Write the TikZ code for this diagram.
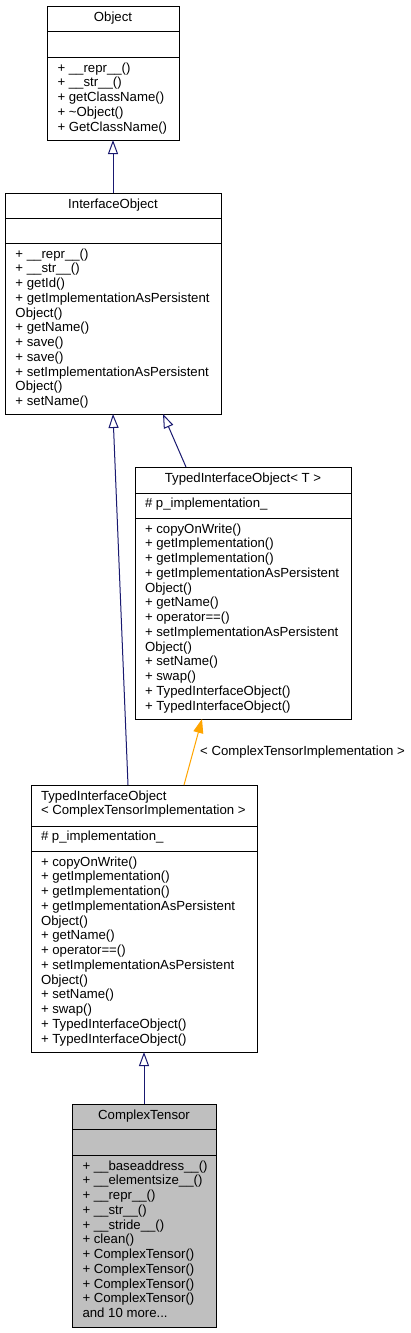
\documentclass[tikz,border=0pt]{standalone}
\usepackage{fontspec}
\setmainfont{Liberation Sans}
\usetikzlibrary{arrows.meta,calc}
\definecolor{navy}{HTML}{191970}
\definecolor{inhorange}{HTML}{FFA500}
\definecolor{ctgray}{HTML}{BFBFBF}
\newcommand\dfont{\fontsize{13.2}{14.75}\selectfont}
\begin{document}
\begin{tikzpicture}[x=1pt,y=-1pt,
  classbox/.style={draw=black, line width=1pt, inner sep=0pt, outer sep=0pt, anchor=north west, rectangle},
  txt/.style={font=\dfont, inner sep=0pt, outer sep=0pt, anchor=north west, align=left},
  ttl/.style={font=\dfont, inner sep=0pt, outer sep=0pt, anchor=north},
  divider/.style={draw=black, line width=1pt},
  inh/.style={draw=navy, line width=1pt, -{Triangle[open, length=14pt, width=10pt]}},
  tmpl/.style={draw=inhorange, line width=1pt, -{Triangle[length=14pt, width=10pt, fill=inhorange]}}]
\useasboundingbox[fill=white] (0,0) rectangle (411,1333);

% Object
\node[classbox, minimum width=132pt, minimum height=134pt] (obj) at (47,6) {};
\draw[divider] ($(obj.north west)+(0,25)$) -- ($(obj.north east)+(0,25)$);
\draw[divider] ($(obj.north west)+(0,51)$) -- ($(obj.north east)+(0,51)$);
\node[ttl] (objn) at ($(obj.north)+(0,4.7)$) {\strut Object};
\node[txt] (objm) at ($(obj.north west)+(10.5,55.7)$) {\strut + \_\_repr\_\_()\\+ \_\_str\_\_()\\+ getClassName()\\+ \textasciitilde Object()\\+ GetClassName()};

% InterfaceObject
\node[classbox, minimum width=216pt, minimum height=221pt] (io) at (5,193) {};
\draw[divider] ($(io.north west)+(0,25)$) -- ($(io.north east)+(0,25)$);
\draw[divider] ($(io.north west)+(0,50)$) -- ($(io.north east)+(0,50)$);
\node[ttl] (ion) at ($(io.north)+(0,4.7)$) {\strut InterfaceObject};
\node[txt] (iom) at ($(io.north west)+(10.5,54.7)$) {\strut + \_\_repr\_\_()\\+ \_\_str\_\_()\\+ getId()\\+ getImplementationAsPersistent\\Object()\\+ getName()\\+ save()\\+ save()\\+ setImplementationAsPersistent\\Object()\\+ setName()};

% TypedInterfaceObject< T >
\node[classbox, minimum width=216pt, minimum height=252pt] (tiot) at (135,467) {};
\draw[divider] ($(tiot.north west)+(0,26)$) -- ($(tiot.north east)+(0,26)$);
\draw[divider] ($(tiot.north west)+(0,51)$) -- ($(tiot.north east)+(0,51)$);
\node[ttl] (tiotn) at ($(tiot.north)+(0,4.7)$) {\strut TypedInterfaceObject< T >};
\node[txt] (tiota) at ($(tiot.north west)+(10,29.7)$) {\strut \# p\_implementation\_};
\node[txt] (tiotm) at ($(tiot.north west)+(10,55.7)$) {\strut + copyOnWrite()\\+ getImplementation()\\+ getImplementation()\\+ getImplementationAsPersistent\\Object()\\+ getName()\\+ operator==()\\+ setImplementationAsPersistent\\Object()\\+ setName()\\+ swap()\\+ TypedInterfaceObject()\\+ TypedInterfaceObject()};

% TypedInterfaceObject< ComplexTensorImplementation >
\node[classbox, minimum width=226pt, minimum height=267pt] (tioc) at (31,785) {};
\draw[divider] ($(tioc.north west)+(0,41)$) -- ($(tioc.north east)+(0,41)$);
\draw[divider] ($(tioc.north west)+(0,66)$) -- ($(tioc.north east)+(0,66)$);
\node[txt] (tiocn) at ($(tioc.north west)+(10,4.7)$) {\strut TypedInterfaceObject\\< ComplexTensorImplementation >};
\node[txt] (tioca) at ($(tioc.north west)+(10,44.7)$) {\strut \# p\_implementation\_};
\node[txt] (tiocm) at ($(tioc.north west)+(10,70.7)$) {\strut + copyOnWrite()\\+ getImplementation()\\+ getImplementation()\\+ getImplementationAsPersistent\\Object()\\+ getName()\\+ operator==()\\+ setImplementationAsPersistent\\Object()\\+ setName()\\+ swap()\\+ TypedInterfaceObject()\\+ TypedInterfaceObject()};

% ComplexTensor
\node[classbox, fill=ctgray, minimum width=144pt, minimum height=223pt] (ct) at (72,1104) {};
\draw[divider] ($(ct.north west)+(0,25)$) -- ($(ct.north east)+(0,25)$);
\draw[divider] ($(ct.north west)+(0,51)$) -- ($(ct.north east)+(0,51)$);
\node[ttl] (ctn) at ($(ct.north)+(0,4.7)$) {\strut ComplexTensor};
\node[txt] (ctm) at ($(ct.north west)+(10.5,55.7)$) {\strut + \_\_baseaddress\_\_()\\+ \_\_elementsize\_\_()\\+ \_\_repr\_\_()\\+ \_\_str\_\_()\\+ \_\_stride\_\_()\\+ clean()\\+ ComplexTensor()\\+ ComplexTensor()\\+ ComplexTensor()\\+ ComplexTensor()\\and 10 more...};

% connectors
\draw[inh] (io.north) -- (obj.south);
\draw[inh] ($(tioc.north west)+(97,0)$) -- (io.south);
\draw[inh] ($(tiot.north west)+(51,0)$) -- ($(io.south west)+(158,0)$);
\draw[tmpl] ($(tioc.north west)+(153,0)$) -- ($(tiot.south west)+(67,0)$);
\node[font=\dfont, anchor=base west, inner sep=0pt] (lbl) at (200,755) {< ComplexTensorImplementation >};
\draw[inh] (ct.north) -- (tioc.south);
\end{tikzpicture}
\end{document}
